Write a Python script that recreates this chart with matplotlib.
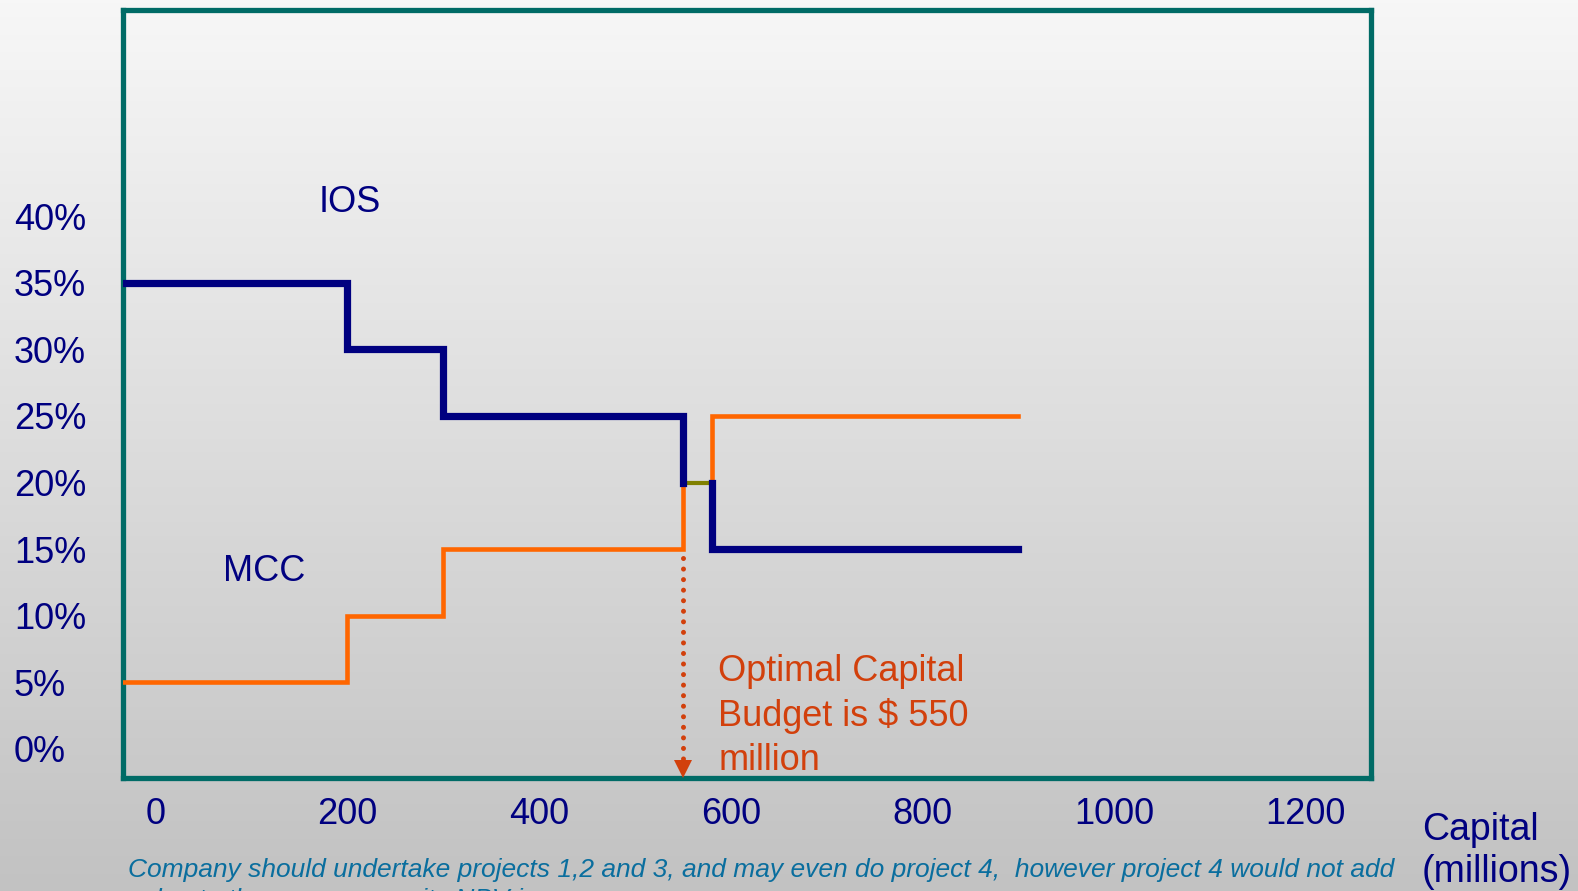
import numpy as np
import matplotlib.pyplot as plt
from matplotlib.colors import LinearSegmentedColormap

# capital break points (millions) and rates (%)
capital = [0, 200, 300, 550, 580, 900]
ios_rate = [35, 30, 25, 20, 15]
mcc_rate = [5, 10, 15, 20, 25]
optimal_budget = 550
x_ticks = [0, 200, 400, 600, 800, 1000, 1200]
y_ticks = [0, 5, 10, 15, 20, 25, 30, 35, 40]

navy = '#000080'
orange = '#ff6600'
teal = '#006b66'
red = '#d2400c'

plt.rcParams['font.family'] = ['Liberation Sans', 'DejaVu Sans']

W, H = 1578, 891
fig = plt.figure(figsize=(W/100, H/100), dpi=100)

# slide background gradient
bg = fig.add_axes([0, 0, 1, 1], zorder=-1)
cmap = LinearSegmentedColormap.from_list('bg', ['#f7f7f7', '#c2c2c2'])
bg.imshow(np.linspace(0, 1, 256)[:, None], aspect='auto', cmap=cmap,
          extent=[0, 1, 0, 1])
bg.axis('off')

ax = fig.add_axes([123/W, 1 - 778/H, (1371-123)/W, (778-10)/H])
ax.set_facecolor('none')
ax.set_xlim(-34, 1268)
ax.set_ylim(-2.2, 55.5)
for s in ax.spines.values():
    s.set_color(teal)
    s.set_linewidth(3.8)

x0 = ax.get_xlim()[0]
xs = np.r_[x0, capital[1:]]


def step_xy(edges, vals, skip):
    # step path; segments where the two schedules meet are left out
    px, py = [], []
    for i, v in enumerate(vals):
        px += [edges[i]]
        py += [v]
        if i in skip:
            px += [np.nan]
            py += [np.nan]
        px += [edges[i+1]]
        py += [v]
    return px, py


meet = [i for i in range(len(ios_rate)) if ios_rate[i] == mcc_rate[i]]

# MCC
mx, my = step_xy(xs, mcc_rate, meet)
ax.plot(mx, my, color=orange, lw=3.3, solid_joinstyle='miter', zorder=3)
# IOS
ix, iy = step_xy(xs, ios_rate, meet)
ax.plot(ix, iy, color=navy, lw=5.2, solid_joinstyle='miter', zorder=4)
# where MCC meets IOS
for i in meet:
    ax.plot([xs[i], xs[i+1]], [ios_rate[i], ios_rate[i]], color='#808000',
            lw=3.0, zorder=2)

# dotted pointer to optimal budget
y_bot = ax.get_ylim()[0]
ax.plot([optimal_budget, optimal_budget], [14.3, y_bot + 1.4],
        color=red, lw=3.6, ls=(0, (0.01, 2.1)), dash_capstyle='round',
        zorder=3, clip_on=False)
ax.plot(optimal_budget, y_bot + 0.68, marker='v', ms=13,
        color=red, markeredgewidth=0, zorder=3, clip_on=False)

ax.text(170, 41, 'IOS', color=navy, fontsize=26, va='center', ha='left')
ax.text(70, 13.3, 'MCC', color=navy, fontsize=26, va='center', ha='left')
ax.text(587, 7.1, 'Optimal Capital\nBudget is $ 550\nmillion', color=red,
        fontsize=26, va='top', ha='left', linespacing=1.32)

ax.set_xticks(x_ticks)
ax.set_xticklabels([str(v) for v in x_ticks], fontsize=26, color=navy)
ax.set_yticks(y_ticks)
ax.set_yticklabels([f'{v}%' for v in y_ticks], fontsize=26, color=navy,
                   ha='left')
ax.tick_params(axis='y', length=0, pad=78.5)
ax.tick_params(axis='x', length=0, pad=14)

fig.text(1422/W, 1 - 851/H, 'Capital\n(millions)', color=navy,
         fontsize=27, va='center', ha='left', linespacing=1.2)
fig.text(128/W, 1 - 858/H,
         'Company should undertake projects 1,2 and 3, and may even do project 4,  '
         'however project 4 would not add\nvalue to the company as its NPV is zero',
         color='#0a6e9e', fontsize=19, style='italic',
         va='top', ha='left', linespacing=1.3)

fig.savefig('out.png', dpi=100)
